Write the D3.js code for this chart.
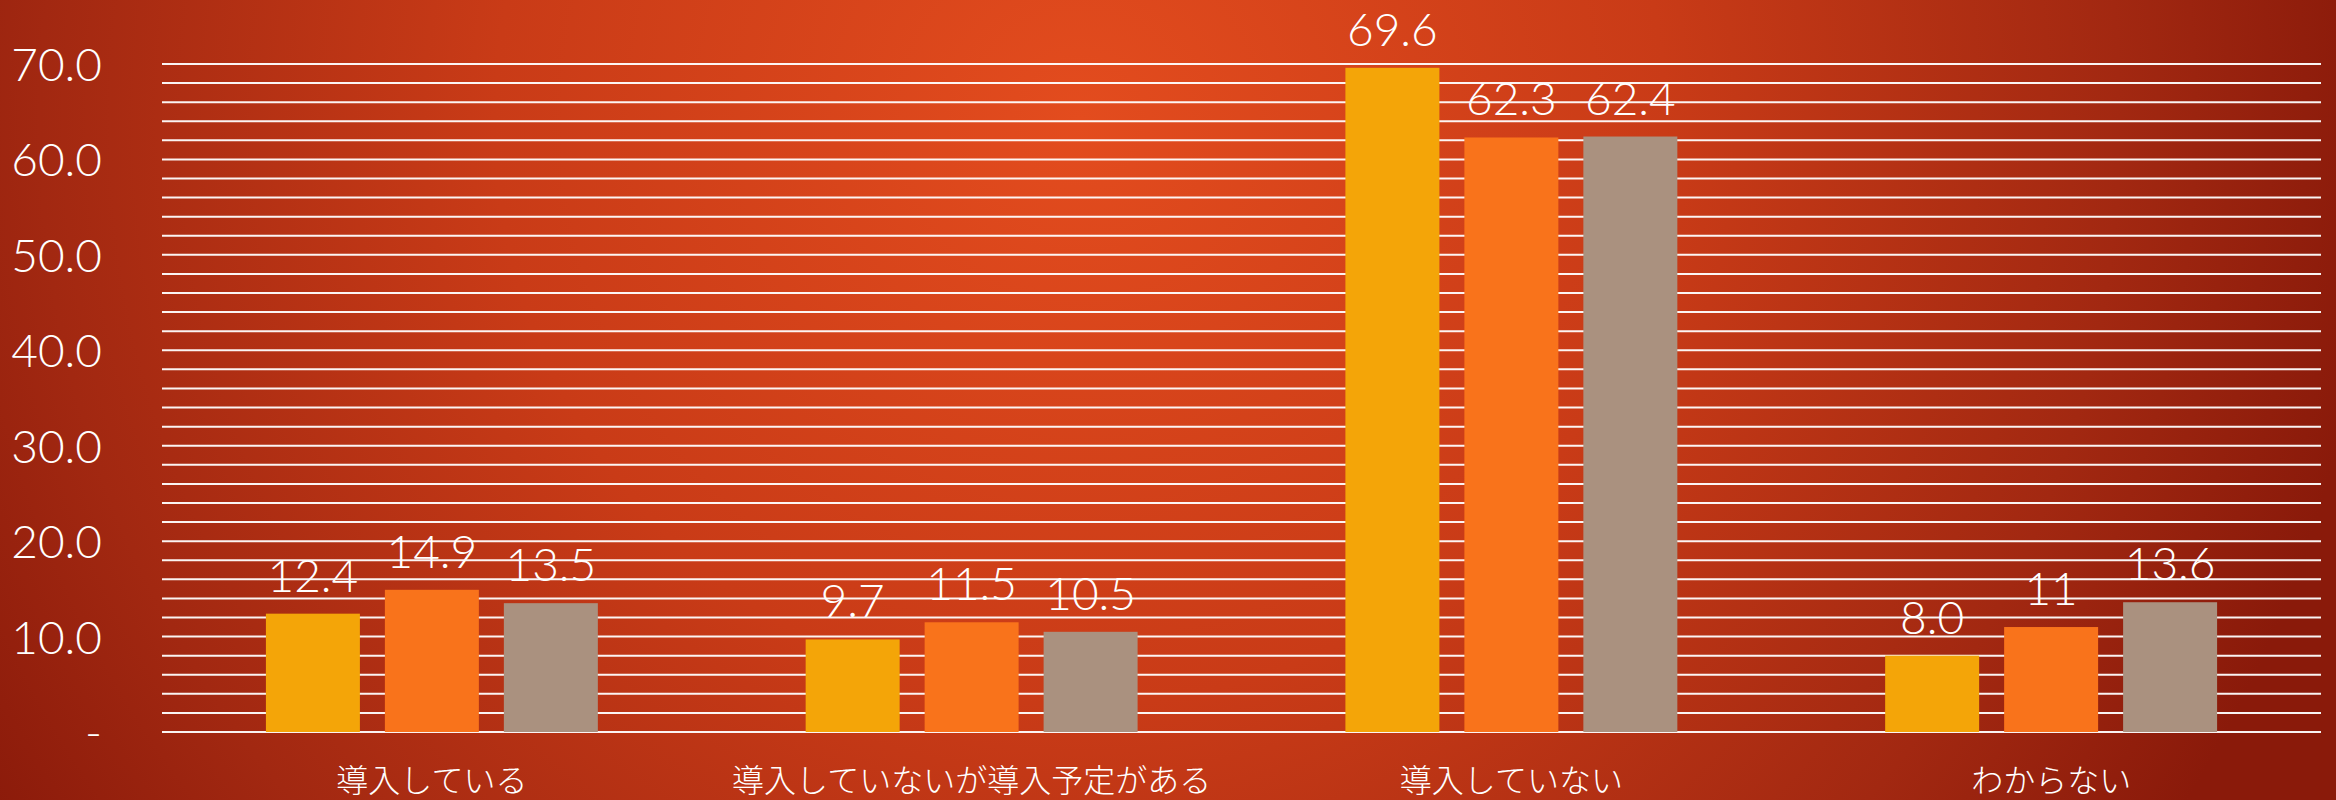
<!DOCTYPE html>
<html><head><meta charset="utf-8">
<script src="https://cdn.jsdelivr.net/npm/d3@7"></script>
<style>html,body{margin:0;padding:0;background:#b0300f;}svg{display:block;}</style>
</head><body>
<script>
const categories = ["導入している", "導入していないが導入予定がある", "導入していない", "わからない"];
const seriesNames = ["s1", "s2", "s3"];
const series1 = [12.4, 9.7, 69.6, 8.0];
const series2 = [14.9, 11.5, 62.3, 11];
const series3 = [13.5, 10.5, 62.4, 13.6];
const labels1 = ["12.4", "9.7", "69.6", "8.0"];
const labels2 = ["14.9", "11.5", "62.3", "11"];
const labels3 = ["13.5", "10.5", "62.4", "13.6"];
const yTicks = [0, 10, 20, 30, 40, 50, 60, 70];
const yTickLabels = ["-", "10.0", "20.0", "30.0", "40.0", "50.0", "60.0", "70.0"];
const colors = ["#f4a508", "#f9731b", "#aa917f"];

const W = 2336, H = 800;
const svg = d3.select("body").append("svg").attr("width", W).attr("height", H);
const defs = svg.append("defs");
const grad = defs.append("radialGradient").attr("id", "bg")
  .attr("gradientUnits", "userSpaceOnUse").attr("cx", 1080).attr("cy", 120).attr("r", 1300);
grad.append("stop").attr("offset", 0).attr("stop-color", "#e34c1e");
grad.append("stop").attr("offset", 0.45).attr("stop-color", "#c93b17");
grad.append("stop").attr("offset", 0.8).attr("stop-color", "#a22811");
grad.append("stop").attr("offset", 1).attr("stop-color", "#8a1a0a");
svg.append("rect").attr("width", W).attr("height", H).attr("fill", "url(#bg)");

const left = 162, right = 2321;
const y = d3.scaleLinear().domain([0, 70]).range([732, 64]);
const x0 = d3.scaleBand().domain(categories).range([left, right]).paddingInner(0.385).paddingOuter(0.1925);
const x1 = d3.scaleBand().domain(seriesNames).range([0, x0.bandwidth()]).paddingInner(0.21).paddingOuter(0);

// gridlines every 2
const grid = d3.range(0, 71, 2);
svg.append("g").selectAll("line").data(grid).join("line")
  .attr("x1", left).attr("x2", right)
  .attr("y1", d => y(d)).attr("y2", d => y(d))
  .attr("stroke", "#ffffff").attr("stroke-width", 2).attr("stroke-opacity", 0.95);

// y axis
const yAxis = d3.axisLeft(y).tickValues(yTicks).tickSize(0).tickPadding(0)
  .tickFormat((d, i) => yTickLabels[i]);
const ga = svg.append("g").attr("transform", "translate(102,0)").call(yAxis);
ga.select(".domain").remove();
ga.selectAll("text").attr("fill", "#fff").attr("font-family", "Lato, 'Open Sans', sans-serif")
  .attr("font-weight", 300).attr("font-size", 46).attr("dy", "0.36em");

const allSeries = [series1, series2, series3];
const allLabels = [labels1, labels2, labels3];
const data = [];
categories.forEach((c, ci) => {
  seriesNames.forEach((s, si) => {
    data.push({cat: c, s: s, si: si, v: allSeries[si][ci], label: allLabels[si][ci]});
  });
});

svg.append("g").selectAll("rect").data(data).join("rect")
  .attr("x", d => x0(d.cat) + x1(d.s))
  .attr("width", x1.bandwidth())
  .attr("y", d => y(d.v))
  .attr("height", d => y(0) - y(d.v))
  .attr("fill", d => colors[d.si]);

svg.append("g").selectAll("text").data(data).join("text")
  .attr("x", d => x0(d.cat) + x1(d.s) + x1.bandwidth() / 2)
  .attr("y", d => y(d.v) - 22)
  .attr("text-anchor", "middle")
  .attr("fill", "#fff").attr("font-family", "Lato, 'Open Sans', sans-serif")
  .attr("font-weight", 300).attr("font-size", 46)
  .text(d => d.label);

// x axis labels
const xAxis = d3.axisBottom(x0).tickSize(0).tickPadding(0);
const gx = svg.append("g").attr("transform", "translate(0,792)").call(xAxis);
gx.select(".domain").remove();
gx.selectAll("text").attr("fill", "#fff").attr("dy", 0)
  .attr("font-family", "'Noto Sans CJK JP', sans-serif").attr("font-weight", 300)
  .attr("font-size", 32);
</script>
</body></html>
